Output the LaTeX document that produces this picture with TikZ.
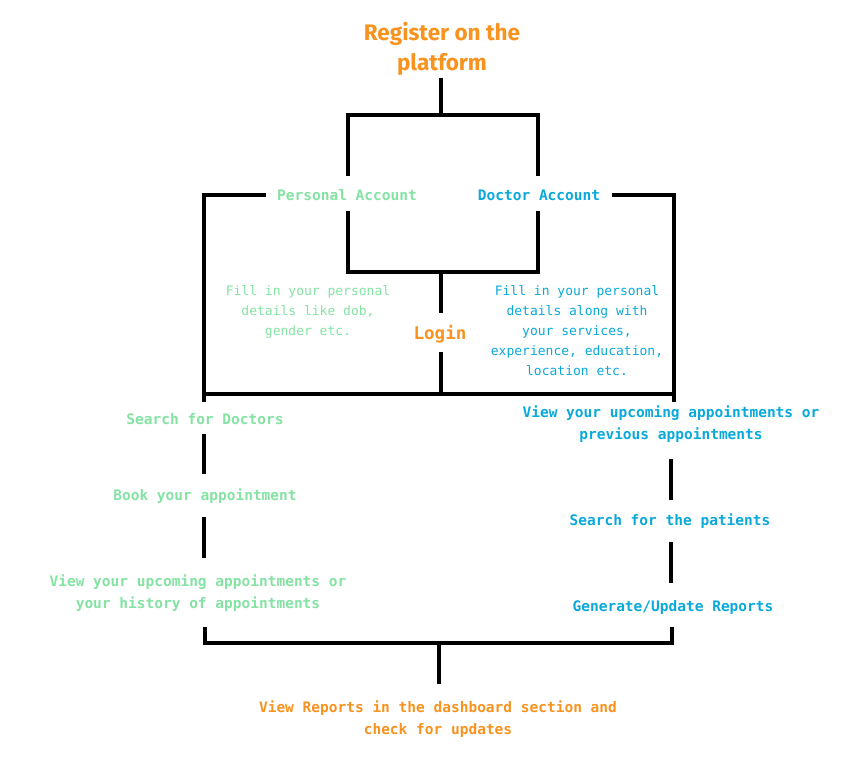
\documentclass[tikz,border=0pt]{standalone}
\usepackage{fontspec}
\setmainfont{Fira Sans}
\newfontfamily\monofont{DejaVu Sans Mono}
\definecolor{cgreen}{HTML}{84E2A3}
\definecolor{cblue}{HTML}{0AA9DA}
\definecolor{corange}{HTML}{F7931E}
\begin{document}
\begin{tikzpicture}[x=1pt,y=-1pt,
  lbl/.style={font=\monofont\bfseries\fontsize{14.5}{22}\selectfont, align=center, inner sep=0pt},
  desc/.style={font=\monofont\fontsize{13}{20}\selectfont, align=center, inner sep=0pt},
  ttl/.style={font=\bfseries\fontsize{22.5}{30}\selectfont, align=center, inner sep=0pt, text=corange},
  ln/.style={line width=4pt, line cap=butt, line join=miter}]
\useasboundingbox (0,0) rectangle (865,774);
% texts
\node[ttl] (reg) at (442,49) {Register on the\\platform};
\node[lbl, text=cgreen] (pa) at (347,195) {Personal Account};
\node[lbl, text=cblue] (da) at (539,195) {Doctor Account};
\node[desc, text=cgreen] (pd) at (308,312) {Fill in your personal\\details like dob,\\gender etc.};
\node[desc, text=cblue] (dd) at (577,331) {Fill in your personal\\details along with\\your services,\\experience, education,\\location etc.};
\node[font=\monofont\bfseries\fontsize{17.5}{20}\selectfont, text=corange, inner sep=0pt] (login) at (440,334) {Login};
\node[lbl, text=cgreen] (s1) at (205,419) {Search for Doctors};
\node[lbl, text=cgreen] (s2) at (205,496) {Book your appointment};
\node[lbl, text=cgreen] (s3) at (198,593) {View your upcoming appointments or\\your history of appointments};
\node[lbl, text=cblue] (d1) at (671,424) {View your upcoming appointments or\\previous appointments};
\node[lbl, text=cblue] (d2) at (670,521) {Search for the patients};
\node[lbl, text=cblue] (d3) at (673,607) {Generate/Update Reports};
\node[lbl, text=corange] (fin) at (438,719) {View Reports in the dashboard section and\\check for updates};
% junction coordinates
\coordinate (r0) at (441,78);
\coordinate (r1) at (441,115);
\coordinate (tl) at (348,115);
\coordinate (tr) at (538,115);
\coordinate (tla) at (348,176);
\coordinate (tra) at (538,176);
\coordinate (blb) at (348,211);
\coordinate (brb) at (538,211);
\coordinate (bl) at (348,272);
\coordinate (br) at (538,272);
\coordinate (bm) at (441,272);
\coordinate (l0) at (441,313);
\coordinate (l1) at (441,352);
\coordinate (l2) at (441,394);
\coordinate (pl) at (266,195);
\coordinate (plc) at (204,195);
\coordinate (pld) at (204,402);
\coordinate (dr) at (612,195);
\coordinate (drc) at (674,195);
\coordinate (drd) at (674,402);
\coordinate (hl) at (204,394);
\coordinate (hr) at (674,394);
\coordinate (a1) at (204,434);
\coordinate (a2) at (204,474);
\coordinate (a3) at (204,517);
\coordinate (a4) at (204,558);
\coordinate (a5) at (205,627);
\coordinate (a6) at (205,643);
\coordinate (b1) at (671,459);
\coordinate (b2) at (671,500);
\coordinate (b3) at (671,542);
\coordinate (b4) at (671,583);
\coordinate (b5) at (672,627);
\coordinate (b6) at (672,643);
\coordinate (c0) at (439,643);
\coordinate (c1) at (439,684);
% connectors
\draw[ln] (r0) -- (r1);
\draw[ln] (tla) -- (tl) -- (tr) -- (tra);
\draw[ln] (blb) -- (bl) -- (br) -- (brb);
\draw[ln] (bm) -- (l0);
\draw[ln] (l1) -- (l2);
\draw[ln] (pl) -- (plc) -- (pld);
\draw[ln] (dr) -- (drc) -- (drd);
\draw[ln] (hl) -- (hr);
\draw[ln] (a1) -- (a2);
\draw[ln] (a3) -- (a4);
\draw[ln] (a5) -- (a6) -- (b6) -- (b5);
\draw[ln] (b1) -- (b2);
\draw[ln] (b3) -- (b4);
\draw[ln] (c0) -- (c1);
\end{tikzpicture}
\end{document}
